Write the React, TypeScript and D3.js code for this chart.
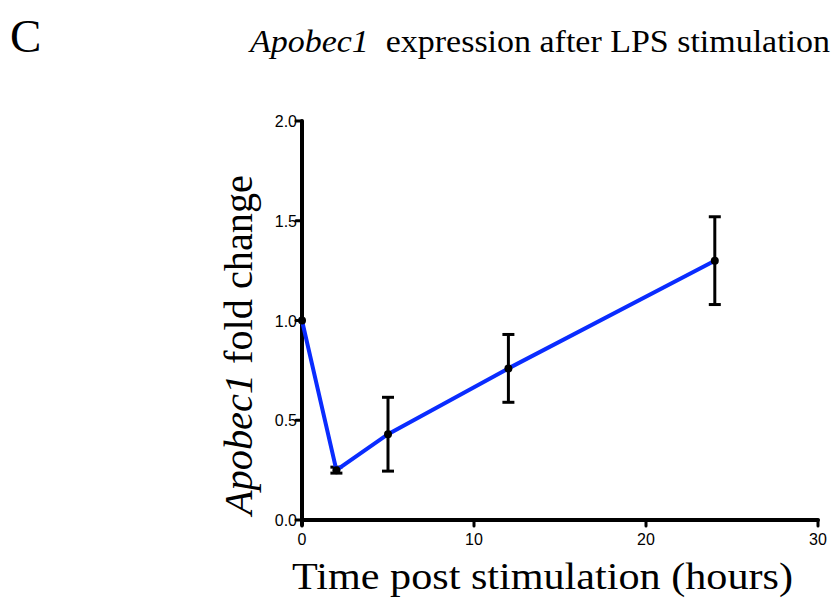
import React from "react";
import * as d3 from "d3";

const hours = [0, 2, 5, 12, 24];
const foldChange = [1.0, 0.25, 0.43, 0.76, 1.3];
const sem = [0, 0.015, 0.185, 0.17, 0.22];
const yTicks = [0, 0.5, 1.0, 1.5, 2.0];
const xTicks = [0, 10, 20, 30];

export default function App() {
  const W = 833, H = 600;
  const x = d3.scaleLinear().domain([0, 30]).range([302, 818]);
  const y = d3.scaleLinear().domain([0, 2]).range([520, 121]);
  const pts = hours.map((h, i) => ({ h, v: foldChange[i], e: sem[i] }));
  const line = d3.line<{ h: number; v: number }>().x(d => x(d.h)).y(d => y(d.v));
  const serif = "'Liberation Serif', 'DejaVu Serif', serif";
  const sans = "'Liberation Sans', Arial, sans-serif";
  return (
    <svg width={W} height={H} style={{ position: "absolute", left: 0, top: 0, background: "#fff" }}>
      <rect width={W} height={H} fill="#fff" />
      <text x={10} y={52} fontFamily={serif} fontSize={47}>C</text>
      <text x={250} y={52} fontFamily={serif} fontSize={32} textLength={580} lengthAdjust="spacingAndGlyphs">
        <tspan fontStyle="italic">Apobec1</tspan>
        <tspan>{"\u00a0 expression after LPS stimulation"}</tspan>
      </text>
      {/* axes */}
      <line x1={x(0)} x2={x(0)} y1={y(2)} y2={y(0) + 5} stroke="#000" strokeWidth={4} strokeLinecap="round" />
      <line x1={x(0)} x2={x(30)} y1={y(0)} y2={y(0)} stroke="#000" strokeWidth={4} strokeLinecap="round" />
      {yTicks.map(t => (
        <g key={"y" + t}>
          <line x1={x(0) - 6} x2={x(0)} y1={y(t)} y2={y(t)} stroke="#000" strokeWidth={3} strokeLinecap="round" />
          <text x={x(0) - 5} y={y(t) + 6} textAnchor="end" fontFamily={sans} fontSize={16}>{t.toFixed(1)}</text>
        </g>
      ))}
      {xTicks.map(t => (
        <g key={"x" + t}>
          <line x1={x(t)} x2={x(t)} y1={y(0)} y2={y(0) + 6} stroke="#000" strokeWidth={3} strokeLinecap="round" />
          <text x={x(t)} y={y(0) + 25} textAnchor="middle" fontFamily={sans} fontSize={16}>{t}</text>
        </g>
      ))}
      {/* error bars */}
      {pts.filter(p => p.e > 0).map(p => (
        <g key={"e" + p.h} stroke="#000" strokeWidth={3}>
          <line x1={x(p.h)} x2={x(p.h)} y1={y(p.v + p.e)} y2={y(p.v - p.e)} />
          <line x1={x(p.h) - 6} x2={x(p.h) + 6} y1={y(p.v + p.e)} y2={y(p.v + p.e)} />
          <line x1={x(p.h) - 6} x2={x(p.h) + 6} y1={y(p.v - p.e)} y2={y(p.v - p.e)} />
        </g>
      ))}
      <path d={line(pts) || ""} fill="none" stroke="#0a2cff" strokeWidth={4} />
      {pts.map(p => (
        <circle key={"c" + p.h} cx={x(p.h)} cy={y(p.v)} r={4} fill="#000" />
      ))}
      <text transform="translate(252,515) rotate(-90)" fontFamily={serif} fontSize={39} textLength={340} lengthAdjust="spacingAndGlyphs">
        <tspan fontStyle="italic">Apobec1</tspan>
        <tspan>{" fold change"}</tspan>
      </text>
      <text x={292} y={589} fontFamily={serif} fontSize={37} textLength={501} lengthAdjust="spacingAndGlyphs">
        Time post stimulation (hours)
      </text>
    </svg>
  );
}
